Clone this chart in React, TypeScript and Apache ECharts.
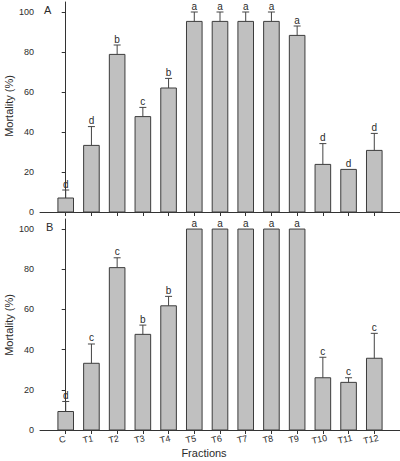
import React, { useEffect, useRef } from "react";
import * as echarts from "echarts";

const categories = ["C", "T1", "T2", "T3", "T4", "T5", "T6", "T7", "T8", "T9", "T10", "T11", "T12"];

// Panel A: mortality (%), standard error and significance letters
const mortalityA = [7, 33.3, 78.8, 47.7, 62, 95.3, 95.3, 95.3, 95.3, 88.3, 23.8, 21.3, 30.8];
const errorA = [4, 9.4, 4.7, 4.6, 4.8, 4.7, 4.7, 4.7, 4.7, 4.7, 10.4, 0, 8.5];
const lettersA = ["d", "d", "b", "c", "b", "a", "a", "a", "a", "a", "d", "d", "d"];

// Panel B
const mortalityB = [9.2, 33.2, 80.8, 47.6, 61.8, 100, 100, 100, 100, 100, 26, 23.7, 35.7];
const errorB = [5, 9.6, 4.9, 4.6, 4.7, 0, 0, 0, 0, 0, 10.2, 2.3, 12.4];
const lettersB = ["d", "c", "c", "b", "b", "a", "a", "a", "a", "a", "c", "c", "c"];

const yTicks = [0, 20, 40, 60, 80, 100];

const FONT = "Liberation Sans, Arial, sans-serif";
const INK = "#2b2b2b";

function barSeries(values: number[], errors: number[], letters: string[], idx: number) {
  return {
    type: "custom",
    xAxisIndex: idx,
    yAxisIndex: idx,
    clip: false,
    data: values.map((v, i) => [i, v, errors[i]]),
    encode: { x: 0, y: 1 },
    renderItem: (params: any, api: any) => {
      const i = api.value(0);
      const v = api.value(1);
      const e = api.value(2);
      const base = api.coord([i, 0]);
      const top = api.coord([i, v]);
      const cap = api.coord([i, v + e]);
      const halfW = 7.8;
      const capW = 3.5;
      const children: any[] = [
        {
          type: "rect",
          shape: { x: base[0] - halfW, y: top[1], width: halfW * 2, height: base[1] - top[1] },
          style: { fill: "#c0c0c0", stroke: "#3c3c3c", lineWidth: 1 },
        },
      ];
      if (e > 0) {
        children.push(
          {
            type: "line",
            shape: { x1: top[0], y1: top[1], x2: cap[0], y2: cap[1] },
            style: { stroke: "#444", lineWidth: 1 },
          },
          {
            type: "line",
            shape: { x1: cap[0] - capW, y1: cap[1], x2: cap[0] + capW, y2: cap[1] },
            style: { stroke: "#444", lineWidth: 1 },
          }
        );
      }
      children.push({
        type: "text",
        x: cap[0],
        y: cap[1] - 1,
        style: {
          text: letters[params.dataIndex],
          fill: INK,
          font: `10px ${FONT}`,
          textAlign: "center",
          textVerticalAlign: "bottom",
        },
      });
      return { type: "group", children };
    },
  };
}

function xAxis(idx: number, showLabels: boolean) {
  return {
    type: "value",
    gridIndex: idx,
    min: -1,
    max: 13,
    splitLine: { show: false },
    axisLine: { show: true, onZero: false, lineStyle: { color: "#333", width: 1 } },
    axisTick: { show: true, length: 4, customValues: categories.map((_, i) => i), lineStyle: { color: "#333" } },
    axisLabel: {
      show: showLabels,
      customValues: categories.map((_, i) => i),
      formatter: (v: number) => categories[Math.round(v)] ?? "",
      rotate: 12,
      align: "center",
      verticalAlign: "top",
      padding: [0, 9, 0, 0],
      margin: 4,
      color: INK,
      fontSize: 9,
      fontFamily: FONT,
    },
  };
}

function yAxis(idx: number) {
  return {
    type: "value",
    gridIndex: idx,
    min: 0,
    max: 105,
    interval: 20,
    splitLine: { show: false },
    axisLine: { show: true, lineStyle: { color: "#333", width: 1 } },
    axisTick: { show: true, length: 4, customValues: yTicks, lineStyle: { color: "#333" } },
    axisLabel: { customValues: yTicks, margin: 6, color: INK, fontSize: 9, fontFamily: FONT },
  };
}

function yTitle(centerY: number) {
  return {
    type: "text",
    x: 8.5,
    y: centerY,
    rotation: Math.PI / 2,
    style: {
      text: "Mortality (%)",
      fill: INK,
      font: `11px ${FONT}`,
      textAlign: "center",
      textVerticalAlign: "middle",
    },
  };
}

export default function App() {
  const ref = useRef<HTMLDivElement>(null);

  useEffect(() => {
    if (!ref.current) return;
    const chart = echarts.init(ref.current, null, { renderer: "svg" });
    chart.setOption({
      animation: false,
      backgroundColor: "#ffffff",
      grid: [
        { left: 40, width: 360, top: 2, height: 210, outerBoundsMode: "none", containLabel: false },
        { left: 40, width: 360, top: 219, height: 211, outerBoundsMode: "none", containLabel: false },
      ],
      xAxis: [xAxis(0, false), xAxis(1, true)],
      yAxis: [yAxis(0), yAxis(1)],
      series: [barSeries(mortalityA, errorA, lettersA, 0), barSeries(mortalityB, errorB, lettersB, 1)],
      graphic: [
        yTitle(106),
        yTitle(325),
        { type: "text", left: 44, top: 4, style: { text: "A", fill: INK, font: `11px ${FONT}` } },
        { type: "text", left: 46, top: 221, style: { text: "B", fill: INK, font: `11px ${FONT}` } },
        {
          type: "text",
          x: 204,
          y: 453,
          style: { text: "Fractions", fill: INK, font: `11px ${FONT}`, textAlign: "center", textVerticalAlign: "middle" },
        },
      ],
    });
    return () => chart.dispose();
  }, []);

  return <div ref={ref} style={{ position: "absolute", left: 0, top: 0, width: 400, height: 461 }} />;
}
